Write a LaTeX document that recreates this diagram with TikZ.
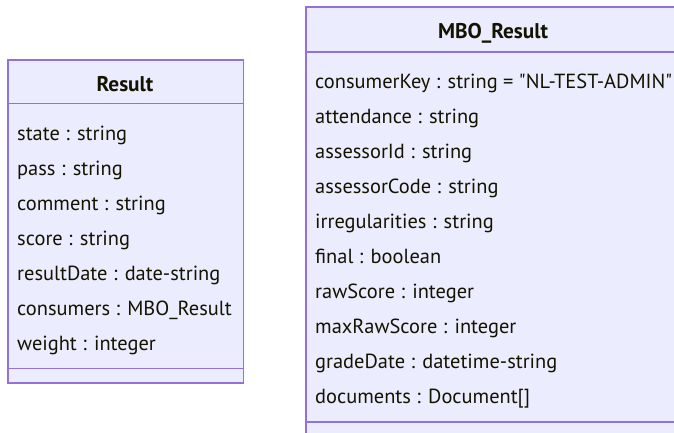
\documentclass[tikz,border=0pt]{standalone}
\usepackage{fontspec}
\setmainfont{PT Sans}[Ligatures=TeXOff]
\newlength\mylen
\newlength\mylenb
\definecolor{cfill}{HTML}{ECECFF}
\definecolor{cline}{HTML}{9370DB}
\definecolor{ctext}{HTML}{131300}
\begin{document}
\settowidth{\mylen}{\fontsize{16}{16}\selectfont consumerKey : string = "NL-TEST-ADMIN"}%
\pgfmathsetmacro{\fs}{16*357/\mylen}%
\settowidth{\mylenb}{\fontsize{16}{16}\selectfont\bfseries MBO\_Result}%
\pgfmathsetmacro{\fsb}{16*110/\mylenb}%
\begin{tikzpicture}[x=1pt,y=-1pt]
\tikzset{
  classbox/.style={draw=cline, fill=cfill, line width=1.2pt, inner sep=0pt, anchor=north west},
  divider/.style={draw=cline, line width=1.2pt},
  attr/.style={font=\fontsize{\fs}{\fs}\selectfont, text=ctext, inner sep=0pt, anchor=base west},
  cname/.style={font=\fontsize{\fsb}{\fsb}\selectfont\bfseries, text=ctext, inner sep=0pt, anchor=base},
}
\useasboundingbox (0,0) rectangle (674,432);
\clip (0,0) rectangle (674,432);
\fill[white] (0,0) rectangle (674,432);
% Result class
\node[classbox, minimum width=235.5pt, minimum height=323pt] (result) at (7.3,59.3) {};
\draw[divider] (result.west |- 0,103.3) -- (result.east |- 0,103.3);
\draw[divider] (result.west |- 0,368.3) -- (result.east |- 0,368.3);
\node[cname] (resultname) at (125,91) {Result};
\node[attr] (ra1) at (17,140) {state : string};
\node[attr] (ra2) at (17,175) {pass : string};
\node[attr] (ra3) at (17,210) {comment : string};
\node[attr] (ra4) at (17,245) {score : string};
\node[attr] (ra5) at (17,280) {resultDate : date-string};
\node[attr] (ra6) at (17,315) {consumers : MBO\_Result};
\node[attr] (ra7) at (17,350) {weight : integer};
% MBO_Result class
\node[classbox, minimum width=376pt, minimum height=440pt] (mbo) at (305.3,6.3) {};
\draw[divider] (mbo.west |- 0,52) -- (mbo.east |- 0,52);
\draw[divider] (mbo.west |- 0,422) -- (mbo.east |- 0,422);
\node[cname] (mboname) at (493,38) {MBO\_Result};
\node[attr] (ma1) at (315,88) {consumerKey : string = "NL-TEST-ADMIN"};
\node[attr] (ma2) at (315,123) {attendance : string};
\node[attr] (ma3) at (315,158) {assessorId : string};
\node[attr] (ma4) at (315,193) {assessorCode : string};
\node[attr] (ma5) at (315,228) {irregularities : string};
\node[attr] (ma6) at (315,263) {final : boolean};
\node[attr] (ma7) at (315,298) {rawScore : integer};
\node[attr] (ma8) at (315,333) {maxRawScore : integer};
\node[attr] (ma9) at (315,368) {gradeDate : datetime-string};
\node[attr] (ma10) at (315,403) {documents : Document[]};
\end{tikzpicture}
\end{document}
